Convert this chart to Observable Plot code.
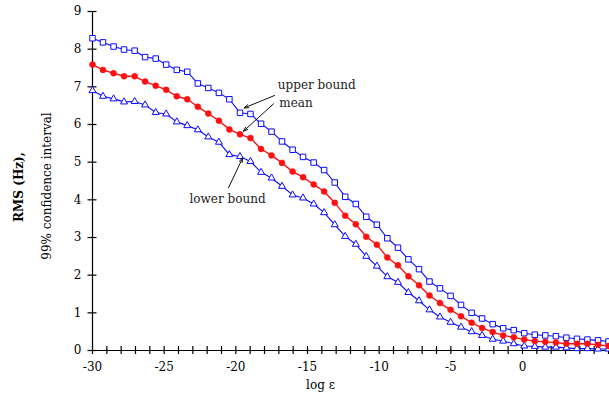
<!DOCTYPE html>
<html><head><meta charset="utf-8">
<script src="https://cdn.jsdelivr.net/npm/d3@7"></script>
<script src="https://cdn.jsdelivr.net/npm/@observablehq/plot@0.6"></script>
<style>body{margin:0;background:#fff}svg{display:block}</style>
</head><body><div id="chart"></div>
<script>
const logEps = [-30, -29.27, -28.53, -27.80, -27.06, -26.33, -25.59, -24.86, -24.12, -23.39,
  -22.65, -21.92, -21.18, -20.45, -19.71, -18.98, -18.24, -17.51, -16.78, -16.04,
  -15.31, -14.57, -13.84, -13.10, -12.37, -11.63, -10.90, -10.16, -9.43, -8.69,
  -7.96, -7.22, -6.49, -5.76, -5.02, -4.29, -3.55, -2.82, -2.08, -1.35,
  -0.61, 0.12, 0.86, 1.59, 2.33, 3.06, 3.80, 4.53, 5.27, 6.00];
const upper = [8.29, 8.18, 8.07, 7.99, 7.96, 7.79, 7.75, 7.59, 7.45, 7.40,
  7.09, 6.97, 6.84, 6.67, 6.31, 6.28, 6.02, 5.81, 5.55, 5.33,
  5.14, 4.99, 4.79, 4.46, 4.08, 3.89, 3.55, 3.34, 2.98, 2.73,
  2.42, 2.16, 1.83, 1.65, 1.45, 1.21, 1.00, 0.85, 0.70, 0.59,
  0.54, 0.46, 0.42, 0.40, 0.38, 0.34, 0.31, 0.29, 0.27, 0.24];
const mean = [7.59, 7.45, 7.36, 7.28, 7.28, 7.14, 7.03, 6.92, 6.75, 6.67,
  6.47, 6.29, 6.10, 5.87, 5.74, 5.64, 5.35, 5.18, 4.98, 4.75,
  4.60, 4.41, 4.22, 3.92, 3.58, 3.35, 3.02, 2.81, 2.47, 2.26,
  1.97, 1.73, 1.46, 1.26, 1.08, 0.91, 0.74, 0.60, 0.49, 0.40,
  0.35, 0.29, 0.25, 0.23, 0.21, 0.18, 0.18, 0.18, 0.15, 0.12];
const lower = [6.90, 6.75, 6.68, 6.60, 6.61, 6.52, 6.32, 6.28, 6.07, 5.97,
  5.86, 5.67, 5.53, 5.20, 5.15, 5.02, 4.73, 4.58, 4.36, 4.13,
  4.05, 3.89, 3.66, 3.34, 3.03, 2.82, 2.50, 2.24, 1.96, 1.81,
  1.54, 1.32, 1.08, 0.89, 0.75, 0.62, 0.50, 0.40, 0.30, 0.25,
  0.18, 0.12, 0.11, 0.09, 0.09, 0.07, 0.05, 0.05, 0.04, 0.04];
const xTickLabels = [-30, -25, -20, -15, -10, -5, 0];
const xTickMarks = [-30, -29, -28, -27, -26, -25, -24, -23, -22, -21, -20, -19, -18, -17, -16, -15,
  -14, -13, -12, -11, -10, -9, -8, -7, -6, -5, -4, -3, -2, -1, 0, 1, 2, 3, 4, 5, 6];
const yTicks = [0, 1, 2, 3, 4, 5, 6, 7, 8, 9];
const annotations = [
  {label: "upper bound", tx: -17.07, ty: 7.05, x1: -17.30, y1: 6.77, x2: -19.42, y2: 6.44},
  {label: "mean", tx: -16.97, ty: 6.56, x1: -17.37, y1: 6.55, x2: -19.47, y2: 5.82},
  {label: "lower bound", tx: -23.23, ty: 4.01, x1: -20.51, y1: 4.32, x2: -19.53, y2: 5.11}
];

const rows = logEps.map((x, i) => ({x, upper: upper[i], mean: mean[i], lower: lower[i]}));
const blue = "#0a0aff", red = "#ff1010";
const font = "DejaVu Serif";

const chart = Plot.plot({
  width: 609, height: 399,
  marginLeft: 92, marginRight: 1, marginTop: 11, marginBottom: 49,
  style: {fontFamily: font, fontSize: "12px", background: "#fff", color: "#000"},
  x: {domain: [-30, 6]},
  y: {domain: [0, 9]},
  marks: [
    Plot.ruleY([0], {stroke: "#000", strokeWidth: 1.2}),
    Plot.ruleX([-30], {stroke: "#000", strokeWidth: 1.2}),
    Plot.axisX({ticks: xTickMarks, tickSize: 8, dy: -4, tickFormat: () => "", label: null, strokeWidth: 1.2}),
    Plot.axisX({ticks: xTickLabels, tickSize: 0, tickPadding: 12, label: null, fontSize: 12, tickFormat: d => String(d)}),
    Plot.axisY({ticks: yTicks, tickSize: 9, dx: 4.5, tickFormat: () => "", label: null, strokeWidth: 1.2}),
    Plot.axisY({ticks: yTicks, tickSize: 0, tickPadding: 11, label: null, fontSize: 12, tickFormat: d => String(d)}),
    Plot.line(rows, {x: "x", y: "upper", stroke: blue, strokeWidth: 1.1}),
    Plot.line(rows, {x: "x", y: "lower", stroke: blue, strokeWidth: 1.1}),
    Plot.line(rows, {x: "x", y: "mean", stroke: red, strokeWidth: 1.4}),
    Plot.dot(rows, {x: "x", y: "upper", symbol: "square", r: 3.1, stroke: blue, fill: "#fff", strokeWidth: 1}),
    Plot.dot(rows, {x: "x", y: "lower", symbol: "triangle", r: 2.6, stroke: blue, fill: "#fff", strokeWidth: 1}),
    Plot.dot(rows, {x: "x", y: "mean", r: 3, fill: red, stroke: red, strokeWidth: 0.5}),
    Plot.arrow(annotations, {x1: "x1", y1: "y1", x2: "x2", y2: "y2", stroke: "#111", strokeWidth: 1, headLength: 7, headAngle: 40}),
    Plot.text(annotations, {x: "tx", y: "ty", text: "label", textAnchor: "start", fontSize: 12, fill: "#222"}),
    Plot.text(["log ε"], {frameAnchor: "bottom", textAnchor: "middle", dx: -30, dy: 38, fontSize: 12}),
    Plot.text(["RMS (Hz),"], {frameAnchor: "left", textAnchor: "middle", rotate: -90, dx: -73.5, dy: 6, fontSize: 12, fontWeight: "bold"}),
    Plot.text(["99% confidence interval"], {frameAnchor: "left", textAnchor: "middle", rotate: -90, dx: -45, dy: 5, fontSize: 12})
  ]
});
document.getElementById("chart").appendChild(chart);
</script>
</body></html>
